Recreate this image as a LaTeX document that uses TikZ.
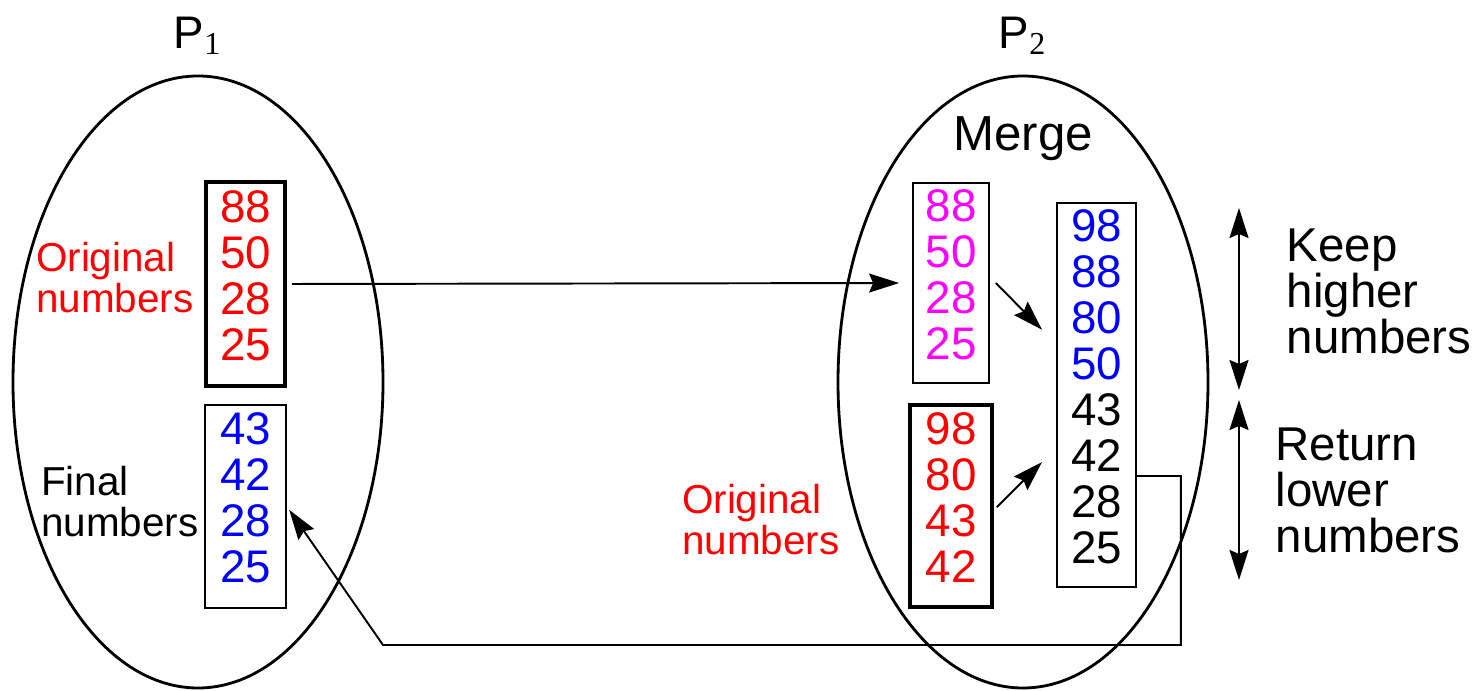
\documentclass[tikz,border=0pt]{standalone}
\usepackage{fontspec}
\setmainfont{Liberation Sans}
\newfontfamily\subfont{Liberation Serif}
\usetikzlibrary{positioning, arrows.meta, shapes.geometric}
\definecolor{pmagenta}{RGB}{255,0,255}
\definecolor{pred}{RGB}{255,0,0}
\definecolor{pblue}{RGB}{0,0,255}
\tikzset{
    line/.style={->, line width=0.55pt},
    twoway/.style={<->, line width=0.55pt}
}

\begin{document}
\begin{tikzpicture}[
    % cac khoi co ban
    process/.style={
        ellipse, draw, line width=0.8pt,
        minimum width=3.7cm, minimum height=6.12cm
    },
    numbox/.style={
        rectangle, draw, line width=0.5pt, inner sep=0pt,
        align=center, text depth=5pt, font=\fontsize{13}{13.1}\selectfont
    },
    heavybox/.style={numbox, line width=1.1pt},
    note/.style={inner sep=0pt, align=left, font=\fontsize{11.5}{11.7}\selectfont},
    side/.style={inner sep=0pt, align=left, font=\fontsize{13.5}{13.1}\selectfont},
    >={Stealth[length=3mm, width=1.9mm, inset=0.4mm]}
]
    \useasboundingbox (0,0) rectangle (14.84,-6.91);

    % 1. HAI TIEN TRINH
    \node[process] (p1) at (1.98,-3.82) {};
    \node[process] (p2) at (10.23,-3.82) {};
    \node[inner sep=0pt, font=\fontsize{13}{13}\selectfont] (t1) [above=1.9mm of p1] {P\textsubscript{\subfont 1}};
    \node[inner sep=0pt, font=\fontsize{13}{13}\selectfont] (t2) [above=1.9mm of p2] {P\textsubscript{\subfont 2}};
    \node[inner sep=0pt, font=\fontsize{14}{14}\selectfont] (merge) [below=4.1mm of p2.north] {Merge};

    % 2. CAC DAY SO
    \node[heavybox, text=pred, minimum width=0.79cm, minimum height=2.04cm] (ltop) at (2.455,-2.84) {88\\50\\28\\25};
    \node[numbox, text=pblue, minimum width=0.81cm, minimum height=2.03cm] (lbot) at (2.455,-5.065) {43\\42\\28\\25};
    \node[numbox, text=pmagenta, minimum width=0.76cm, minimum height=2.0cm] (mtop) at (9.51,-2.83) {88\\50\\28\\25};
    \node[heavybox, text=pred, minimum width=0.82cm, minimum height=2.02cm] (rbot) at (9.51,-5.06) {98\\80\\43\\42};
    \node[numbox, minimum width=0.79cm, minimum height=3.84cm] (mbox) at (10.965,-3.95)
        {\textcolor{pblue}{98}\\\textcolor{pblue}{88}\\\textcolor{pblue}{80}\\\textcolor{pblue}{50}\\43\\42\\28\\25};

    % 3. NHAN
    \node[note, text=pred] (orig1) [left=1mm of ltop, yshift=0.6mm] {Original\\numbers};
    \node[note] (final) [left=0.5mm of lbot, yshift=0.5mm] {Final\\numbers};
    \node[note, text=pred] (orig2) [left=6.8mm of rbot, yshift=-1.35mm] {Original\\numbers};

    % 4. MUI TEN
    \draw[line, shorten <=0.5mm, shorten >=1.3mm] (ltop.east) -- (mtop.west);
    \draw[line, shorten <=0.85mm, shorten >=2mm] ([yshift=0.6mm]mtop.east) -- ([yshift=5.1mm]mbox.west);
    \draw[line, shorten <=0.4mm, shorten >=2mm] ([yshift=-0.4mm]rbot.east) -- ([yshift=-5.3mm]mbox.west);
    % duong tra ve P1
    \coordinate (back) at (3.83,-6.45);
    \draw[line, shorten >=0.4mm] ([yshift=-8.1mm]mbox.east) -- ++(0.44,0) |- (back) -- (lbot.east);

    % 5. KHOANG GIU / TRA
    \coordinate (hi1) at (12.39,-2.08);
    \coordinate (hi2) at (12.39,-3.90);
    \coordinate (lo1) at (12.39,-4.00);
    \coordinate (lo2) at (12.39,-5.80);
    \draw[twoway] (hi1) -- (hi2);
    \draw[twoway] (lo1) -- (lo2);
    \node[side, anchor=west] (keep) at (12.86,-2.915) {Keep\\higher\\numbers};
    \node[side, anchor=west] (give) at (12.75,-4.90) {Return\\lower\\numbers};

\end{tikzpicture}
\end{document}
